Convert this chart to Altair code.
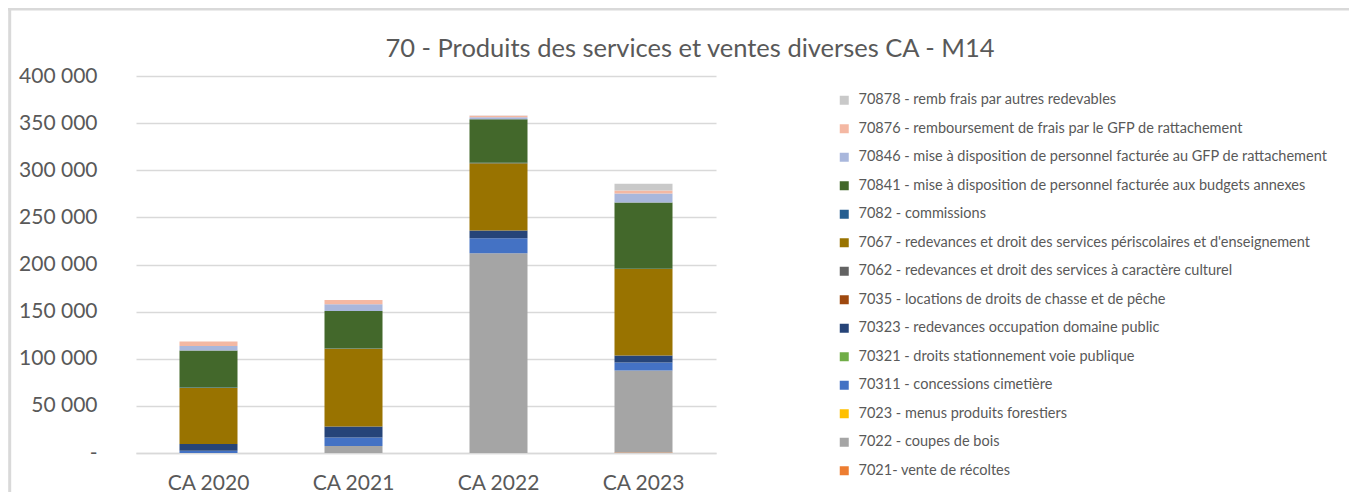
import altair as alt
import pandas as pd

years = ["CA 2020", "CA 2021", "CA 2022", "CA 2023"]

# series listed from bottom of stack to top
series = [
    "7021- vente de récoltes",
    "7022 - coupes de bois",
    "7023 - menus produits forestiers",
    "70311 - concessions cimetière",
    "70321 - droits stationnement voie publique",
    "70323 - redevances occupation domaine public",
    "7035 - locations de droits de chasse et de pêche",
    "7062 - redevances et  droit des services à caractère culturel",
    "7067 - redevances et  droit des services périscolaires et d'enseignement",
    "7082 - commissions",
    "70841 - mise à disposition de personnel facturée aux budgets annexes",
    "70846 - mise à disposition de personnel facturée au GFP de rattachement",
    "70876 - remboursement de frais par le GFP de rattachement",
    "70878 - remb frais par autres redevables",
]
colors = [
    "#ED7D31", "#A5A5A5", "#FFC000", "#4472C4", "#70AD47", "#264478", "#9E480E",
    "#636363", "#997300", "#255E91", "#43682B", "#A9B7DC", "#F4B8A3", "#C9C9C9",
]

v7021 = [0, 0, 0, 500]
v7022 = [0, 7500, 212000, 87100]
v7023 = [0, 0, 0, 0]
v70311 = [2500, 8900, 15900, 8500]
v70321 = [0, 0, 0, 0]
v70323 = [7100, 11700, 8100, 7400]
v7035 = [0, 0, 0, 0]
v7062 = [0, 0, 0, 0]
v7067 = [59400, 82500, 71400, 91700]
v7082 = [400, 400, 600, 400]
v70841 = [39400, 39600, 46200, 70300]
v70846 = [4600, 7100, 2000, 9500]
v70876 = [5000, 4600, 1500, 3200]
v70878 = [0, 0, 500, 7100]

title_text = "70 - Produits des services et ventes diverses CA - M14"

values = [v7021, v7022, v7023, v70311, v70321, v70323, v7035, v7062, v7067,
          v7082, v70841, v70846, v70876, v70878]

rows = []
for i, (s, vals) in enumerate(zip(series, values)):
    for y, v in zip(years, vals):
        rows.append({"annee": y, "compte": s, "valeur": v, "ordre": i})
df = pd.DataFrame(rows)

legend_order = list(reversed(series))
legend_colors = list(reversed(colors))

FONT = "Lato"
TXT = "#595959"
GRID = "#D9D9D9"

bars = alt.Chart(df).mark_bar().encode(
    x=alt.X(
        "annee:N",
        sort=years,
        scale=alt.Scale(paddingInner=0.6, paddingOuter=0.3),
        axis=alt.Axis(
            title=None, labelAngle=0, ticks=False, domainColor=GRID, domainWidth=1.5,
            labelFontSize=21, labelColor=TXT, labelFont=FONT, labelPadding=19,
            grid=False,
        ),
    ),
    y=alt.Y(
        "valeur:Q",
        stack="zero",
        scale=alt.Scale(domain=[0, 400000], nice=False),
        axis=alt.Axis(
            title=None,
            values=[0, 50000, 100000, 150000, 200000, 250000, 300000, 350000, 400000],
            labelExpr="datum.value == 0 ? '-\u00a0\u00a0\u00a0' : format(datum.value / 1000, 'd') + ' 000'",
            domain=False, ticks=False, gridColor=GRID, gridWidth=1.5,
            labelFontSize=21, labelColor=TXT, labelFont=FONT, labelPadding=39,
        ),
    ),
    color=alt.Color(
        "compte:N",
        scale=alt.Scale(domain=legend_order, range=legend_colors),
        legend=alt.Legend(
            title=None, orient="none", legendX=701, legendY=17,
            symbolType="square", symbolSize=81, symbolStrokeWidth=0,
            labelFont=FONT, labelFontSize=14.5, labelColor=TXT,
            labelOffset=7, rowPadding=13.5, padding=0, labelLimit=600,
        ),
    ),
    order=alt.Order("ordre:Q", sort="ascending"),
)

one = pd.DataFrame({"k": [0], "t": [title_text]})
top_border = alt.Chart(one).mark_rule(color=GRID, strokeWidth=3).encode(
    x=alt.value(-128), x2=alt.value(1213), y=alt.value(-67)
)
left_border = alt.Chart(one).mark_rule(color=GRID, strokeWidth=3).encode(
    x=alt.value(-126.3), y=alt.value(-68), y2=alt.value(420)
)
title = alt.Chart(one).mark_text(
    font=FONT, fontSize=25.5, color=TXT, align="center", baseline="alphabetic"
).encode(x=alt.value(554), y=alt.value(-19), text="t:N")

chart = alt.layer(bars, top_border, left_border, title).properties(
    width=580,
    height=377,
    autosize=alt.AutoSizeParams(type="none"),
    padding={"left": 128, "top": 68, "right": 633, "bottom": 40},
).configure_view(stroke=None)

chart.save("out.html", embed_options={"renderer": "svg", "actions": False})
